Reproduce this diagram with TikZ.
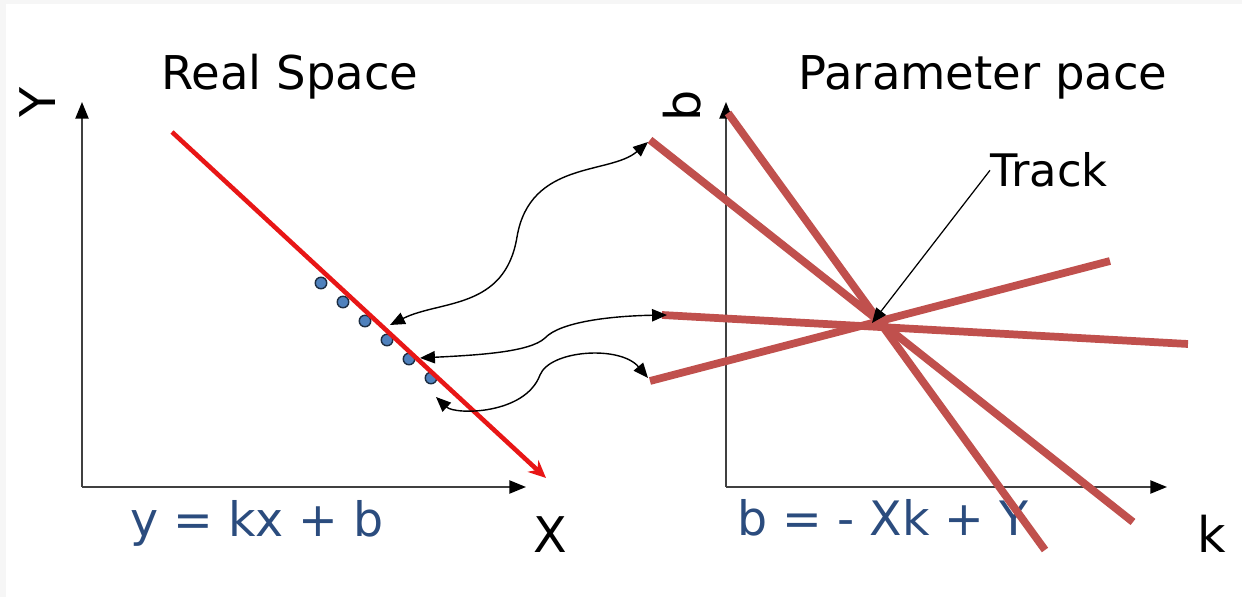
\documentclass[tikz,border=0pt]{standalone}
\usepackage{fontspec}
\setmainfont{DejaVu Sans}
\usetikzlibrary{arrows.meta}
\definecolor{fitred}{RGB}{232,22,22}
\definecolor{houghred}{RGB}{192,80,77}
\definecolor{eqblue}{RGB}{43,76,126}
\definecolor{dotblue}{RGB}{79,129,189}
\definecolor{axisgray}{RGB}{64,64,64}

\begin{document}
\begin{tikzpicture}[x=0.02cm, y=-0.02cm,
  lbl/.style={inner sep=0pt, font=\fontsize{26.5}{30}\selectfont},
  axlbl/.style={inner sep=0pt, font=\fontsize{28}{30}\selectfont},
  eq/.style={inner sep=0pt, anchor=base west, text=eqblue, font=\fontsize{27}{30}\selectfont},
  axis/.style={draw=axisgray, line width=1pt, -{Triangle[length=9.5pt, width=7.5pt, color=black]}},
  hline/.style={houghred, line width=4.4pt},
  hit/.style={circle, draw=dotblue!35!black, fill=dotblue, line width=0.8pt, inner sep=0pt, minimum size=0.23cm},
  link/.style={line width=0.8pt, {Triangle[length=8.5pt, width=7pt]}-{Triangle[length=8.5pt, width=7pt]}},
  pointer/.style={line width=0.7pt, -{Triangle[length=8.5pt, width=7pt]}}
]
\fill[gray!7] (0,0) rectangle (1242,597);
\useasboundingbox (0,0) rectangle (1242,597);
\fill[white] (6,4) rectangle (1242,597);

% real space
\coordinate (o1) at (82,487);
\coordinate (ytip) at (82,102);
\coordinate (xtip) at (526,487);
\draw[axis] (o1) -- (ytip);
\draw[axis] (o1) -- (xtip);
\node[axlbl, rotate=90] (ylab) at (38,102) {Y};
\node[axlbl, anchor=base] (xlab) at (550,553) {X};
\node[lbl, anchor=base] (realtitle) at (290,90) {Real Space};
\node[eq] (realeq) at (130,537) {y = kx + b};

\node[hit] (d1) at (321,283) {};
\node[hit] (d2) at (343,302) {};
\node[hit] (d3) at (365,321) {};
\node[hit] (d4) at (387,340) {};
\node[hit] (d5) at (409,359) {};
\node[hit] (d6) at (431,378) {};

\coordinate (fitstart) at (172,132);
\coordinate (fitend) at (546,478);
\draw[fitred, line width=2.6pt, -{Stealth[length=10pt, width=9pt]}] (fitstart) -- (fitend);

% parameter space
\coordinate (o2) at (726,487);
\coordinate (btip) at (726,102);
\coordinate (ktip) at (1167,487);
\draw[axis] (o2) -- (btip);
\draw[axis] (o2) -- (ktip);
\node[axlbl, rotate=90] (blab) at (682,106) {b};
\node[axlbl, anchor=base] (klab) at (1212,553) {k};
\node[lbl, anchor=base] (partitle) at (983,90) {Parameter pace};
\node[eq] (pareq) at (737,536) {b = - Xk + Y};

\coordinate (la1) at (728,113);  \coordinate (la2) at (1045,550);
\coordinate (lb1) at (650,140);  \coordinate (lb2) at (1133,522);
\coordinate (lc1) at (662,315);  \coordinate (lc2) at (1188,344);
\coordinate (ld1) at (650,381);  \coordinate (ld2) at (1110,261);
\draw[hline] (la1) -- (la2);
\draw[hline] (lb1) -- (lb2);
\draw[hline] (lc1) -- (lc2);
\draw[hline] (ld1) -- (ld2);

\coordinate (hub) at (872,323);
\node[lbl, anchor=base west, font=\fontsize{25.5}{30}\selectfont] (track) at (990,187) {Track};
\draw[pointer] (track.west) -- (hub);

% mapping
\coordinate (hitA) at (390,325);
\coordinate (hitB) at (420,358);
\coordinate (hitC) at (436,397);
\coordinate (endA) at (648,142);
\coordinate (endC) at (667,315);
\coordinate (endD) at (648,378);
\draw[link] (hitA) .. controls (440,300) and (505,310) .. (517,237)
  .. controls (530,160) and (610,175) .. (endA);
\draw[link] (hitB) .. controls (480,355) and (530,352) .. (545,338)
  .. controls (560,322) and (610,316) .. (endC);
\draw[link] (hitC) .. controls (455,415) and (525,415) .. (540,375)
  .. controls (550,350) and (620,345) .. (endD);
\end{tikzpicture}
\end{document}
